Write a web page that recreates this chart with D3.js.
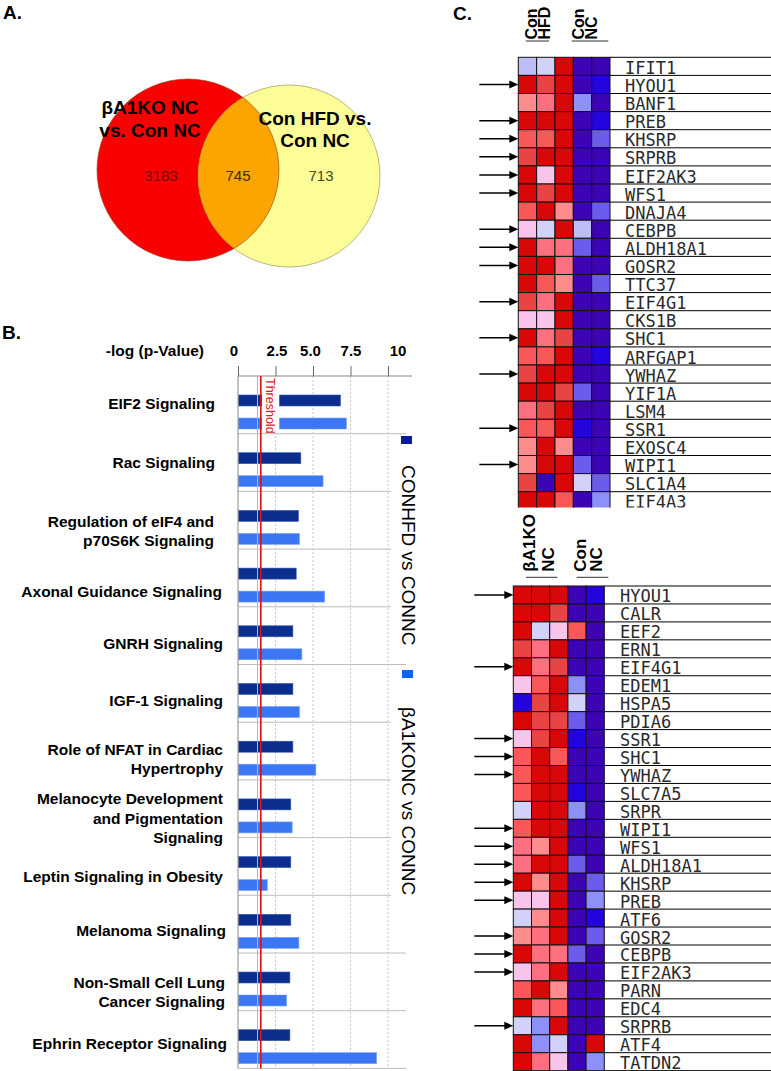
<!DOCTYPE html>
<html><head><meta charset="utf-8">
<script src="https://cdn.jsdelivr.net/npm/d3@7"></script>
<style>body{margin:0;background:#fff}svg{display:block}</style>
</head><body>
<svg id="fig" width="771" height="1071"></svg>
<script>
// ---------------- DATA ----------------
// Panel A: Venn counts
const vennLabelsA = ["βA1KO NC", "vs. Con NC"];
const vennLabelsB = ["Con HFD vs.", "Con NC"];
const vennOnlyA = 3183, vennBoth = 745, vennOnlyB = 713;

// Panel B: pathways, -log(p)
const pathways = [
  ["EIF2 Signaling"], ["Rac Signaling"], ["Regulation of eIF4 and", "p70S6K Signaling"],
  ["Axonal Guidance Signaling"], ["GNRH Signaling"], ["IGF-1 Signaling"],
  ["Role of NFAT in Cardiac", "Hypertrophy"], ["Melanocyte Development", "and Pigmentation", "Signaling"],
  ["Leptin Signaling in Obesity"], ["Melanoma Signaling"], ["Non-Small Cell Lung", "Cancer Signaling"],
  ["Ephrin Receptor Signaling"]
];
const conHFDvsConNC = [6.83, 4.19, 4.03, 3.88, 3.66, 3.66, 3.66, 3.52, 3.52, 3.52, 3.46, 3.46];
const bA1KOvsConNC  = [7.23, 5.67, 4.10, 5.78, 4.26, 4.10, 5.19, 3.61, 1.95, 4.06, 3.24, 9.24];
const xTickValues = [0, 2.5, 5, 7.5, 10];
const xTickLabels = ["0", "2.5", "5.0", "7.5", "10"];
const seriesNames = ["CONHFD vs CONNC", "βA1KONC vs CONNC"];
const thresholdP05 = 1.3;
const thresholdShown = 1.52;

// Panel C: heatmaps (3 = strong up ... -4 = strong down)
const topHeaders = [["Con", "HFD"], ["Con", "NC"]];
const topGenes = ["IFIT1","HYOU1","BANF1","PREB","KHSRP","SRPRB","EIF2AK3","WFS1","DNAJA4","CEBPB","ALDH18A1","GOSR2","TTC37","EIF4G1","CKS1B","SHC1","ARFGAP1","YWHAZ","YIF1A","LSM4","SSR1","EXOSC4","WIPI1","SLC1A4","EIF4A3"];
const topValues = [
  [-0.3,0,3,-3,-3],[3,2.4,3,-3,-4],[1,1.5,3,-1,-3],[3,3,3,-3,-4],[2,2,3,-3,-2],
  [2.4,3,3,-3,-3],[3,0.5,3,-3,-3],[3,2.4,3,-3,-3],[2,3,1,-3,-2],[0.5,0,3,-0.3,-3],
  [3,1.5,1.5,-2,-3],[3,3,1.5,-3,-3],[3,2,1,-3,-2],[2.4,1.5,3,-3,-3],[0.5,0.5,3,-3,-3],
  [3,1.5,2.4,-3,-3],[2,2,3,-3,-4],[2.4,3,3,-3,-3],[3,3,2.4,-2,-3],[1.5,2.4,3,-3,-3],
  [2,2,3,-4,-3],[1,3,1,-3,-3],[1,3,3,-2,-3],[2.4,-3,3,0,-2],[3,3,2,-3,-1]
];
const topArrows = ["HYOU1","PREB","KHSRP","SRPRB","EIF2AK3","WFS1","CEBPB","ALDH18A1","GOSR2","EIF4G1","SHC1","YWHAZ","SSR1","WIPI1"];

const bottomHeaders = [["βA1KO", "NC"], ["Con", "NC"]];
const bottomGenes = ["HYOU1","CALR","EEF2","ERN1","EIF4G1","EDEM1","HSPA5","PDIA6","SSR1","SHC1","YWHAZ","SLC7A5","SRPR","WIPI1","WFS1","ALDH18A1","KHSRP","PREB","ATF6","GOSR2","CEBPB","EIF2AK3","PARN","EDC4","SRPRB","ATF4","TATDN2"];
const bottomValues = [
  [3,3,3,-3,-4],[3,3,2.4,-3,-3],[3,0,0.5,2,-3],[2.4,1.5,3,-3,-3],[3,1.5,2.4,-3,-3],
  [0.5,2,3,-1,-3],[-4,2.4,3,0,-3],[3,2.4,2.4,-2,-3],[0.5,2.4,3,-4,-3],[2,3,2,-3,-3],
  [2,3,3,-3,-3],[2,3,3,-4,-3],[0,3,3,-1,-3],[2,3,3,-3,-3],[1.5,1,3,-3,-3],
  [1.5,3,3,-2,-3],[3,1,3,-3,-2],[0.5,0.5,3,-3,-1],[0,1,3,-3,-4],[1,1.5,3,-3,-2],
  [3,1.5,1.5,-2,-3],[0.5,1.5,3,-3,-3],[2,3,1,-3,-3],[3,1.5,2,-3,-3],[0,-1,3,-3,-3],
  [3,-1,0,-3,3],[3,1.5,0.5,-3,-1]
];
const bottomArrows = ["HYOU1","EIF4G1","SSR1","SHC1","YWHAZ","WIPI1","WFS1","ALDH18A1","KHSRP","PREB","GOSR2","CEBPB","EIF2AK3","SRPRB"];

// ---------------- DRAW ----------------
const svg = d3.select("#fig");
const SANS = "'Liberation Sans', Arial, Helvetica, sans-serif";
svg.append("rect").attr("width",771).attr("height",1071).attr("fill","#fff");

function panelLetter(t, x, y){
  svg.append("text").attr("x",x).attr("y",y).text(t)
    .attr("font-family",SANS).attr("font-weight","bold").attr("font-size",19).attr("fill","#000");
}
panelLetter("A.", 3, 19);
panelLetter("B.", 2, 339);
panelLetter("C.", 453, 20);

// ---- Panel A: Venn ----
const venn = svg.append("g");
const cA = {x:188, y:170, r:91}, cB = {x:289, y:176, r:91};
const defs = svg.append("defs");
defs.append("clipPath").attr("id","clipA").append("circle").attr("cx",cA.x).attr("cy",cA.y).attr("r",cA.r);
venn.append("circle").attr("cx",cA.x).attr("cy",cA.y).attr("r",cA.r).attr("fill","#fb0000");
venn.append("circle").attr("cx",cB.x).attr("cy",cB.y).attr("r",cB.r).attr("fill","#fdfd98");
venn.append("circle").attr("cx",cB.x).attr("cy",cB.y).attr("r",cB.r).attr("fill","#fca500").attr("clip-path","url(#clipA)");
venn.append("circle").attr("cx",cA.x).attr("cy",cA.y).attr("r",cA.r).attr("fill","none").attr("stroke","#7a3a10").attr("stroke-width",0.8).attr("stroke-opacity",0.7);
venn.append("circle").attr("cx",cB.x).attr("cy",cB.y).attr("r",cB.r).attr("fill","none").attr("stroke","#8a7a40").attr("stroke-width",0.8).attr("stroke-opacity",0.7);
function vennText(lines, cx, ys){
  lines.forEach((l,i)=>venn.append("text").attr("x",cx).attr("y",ys[i]).attr("dy","0.35em")
    .attr("text-anchor","middle").attr("font-family",SANS).attr("font-weight","bold")
    .attr("font-size",19).attr("fill","#000").text(l));
}
vennText(vennLabelsA, 150, [107, 130]);
vennText(vennLabelsB, 315, [118, 140]);
[[vennOnlyA,161,"#6e0a0a"],[vennBoth,238,"#3d2a00"],[vennOnlyB,321,"#4a4a1a"]].forEach(([v,x,c])=>{
  venn.append("text").attr("x",x).attr("y",176).attr("dy","0.35em").attr("text-anchor","middle")
    .attr("font-family",SANS).attr("font-size",15).attr("fill",c).text(v);
});

// ---- Panel B: bar chart ----
const B = svg.append("g");
const bx = d3.scaleLinear().domain([0,10]).range([238,388]);
const by = d3.scaleBand().domain(d3.range(pathways.length)).range([376,1068.4]);
const yTop = 376, yBot = 1068.4;

// gridlines
B.selectAll("line.grid").data(xTickValues.filter(d=>d>0)).join("line")
  .attr("x1",d=>bx(d)).attr("x2",d=>bx(d)).attr("y1",yTop).attr("y2",yBot)
  .attr("stroke","#c8c8c8").attr("stroke-width",1).attr("stroke-dasharray","2,2");

// axis
const axis = d3.axisTop(bx).tickValues(xTickValues).tickSize(10).tickFormat((d,i)=>xTickLabels[i]);
const ag = B.append("g").attr("transform",`translate(0,${yTop})`).call(axis);
ag.select(".domain").remove();
ag.selectAll(".tick line").attr("stroke","#666");
const tickNudge = [-4.5, 1, -3, 0, 9.5];
ag.selectAll(".tick text").attr("y",-25).attr("dy","0.35em").attr("x",(d,i)=>tickNudge[i])
  .attr("font-family",SANS).attr("font-weight","bold").attr("font-size",15).attr("fill","#000");
B.append("line").attr("x1",bx(0)).attr("x2",bx(11.6)).attr("y1",yTop).attr("y2",yTop).attr("stroke","#888");
B.append("text").attr("x",204).attr("y",351).attr("dy","0.35em").attr("text-anchor","end")
  .attr("font-family",SANS).attr("font-weight","bold").attr("font-size",15.5).text("-log (p-Value)");

// separators (shortened where the legend text sits)
const legendSpans = [[462,650],[704,900]];
B.selectAll("line.sep").data(d3.range(1, pathways.length+1)).join("line")
  .attr("x1",bx(0)).attr("y1",d=>by(0)+d*by.step()).attr("y2",d=>by(0)+d*by.step())
  .attr("x2",d=>{const y=by(0)+d*by.step(); return legendSpans.some(s=>y>s[0]&&y<s[1]) ? 391 : 406;})
  .attr("stroke","#bdbdbd").attr("stroke-width",1);

// bars
const darkC = "#0b2d8d", lightC = "#3b77f4";
B.selectAll("rect.d").data(conHFDvsConNC).join("rect")
  .attr("x",bx(0)+0.5).attr("y",(d,i)=>by(i)+19).attr("height",11).attr("width",d=>bx(d)-bx(0)-0.5)
  .attr("fill",darkC).attr("stroke","#3a5ab0").attr("stroke-width",0.6);
B.selectAll("rect.l").data(bA1KOvsConNC).join("rect")
  .attr("x",bx(0)+0.5).attr("y",(d,i)=>by(i)+42).attr("height",11).attr("width",d=>bx(d)-bx(0)-0.5)
  .attr("fill",lightC).attr("stroke","#7aa2f6").attr("stroke-width",0.6);

// left axis line
B.append("line").attr("x1",bx(0)).attr("x2",bx(0)).attr("y1",yTop).attr("y2",yBot).attr("stroke","#8a8a8a");

// threshold lines and label
B.append("line").attr("x1",bx(thresholdP05)).attr("x2",bx(thresholdP05)).attr("y1",yTop).attr("y2",yBot)
  .attr("stroke","#ffb030").attr("stroke-width",1);
B.append("rect").attr("x",bx(thresholdShown)+1).attr("y",by(0)+1).attr("width",17.5).attr("height",by.step()-2).attr("fill","#fff");
B.append("line").attr("x1",bx(thresholdShown)).attr("x2",bx(thresholdShown)).attr("y1",yTop).attr("y2",yBot)
  .attr("stroke","#e01010").attr("stroke-width",1.6);
B.append("text").attr("transform",`translate(${bx(thresholdShown)+5.5},${by(0)+2}) rotate(90)`)
  .attr("font-family",SANS).attr("font-size",12.5).attr("fill","#e02020").text("Threshold");

// category labels
const labNudgeY = [-1,0,11,14,8,7,8,9.5,10,6,10.5,4.5];
const labNudgeX = [-7,-7,-8,0,1,1,1,1,1,4,3,5];
pathways.forEach((lines,i)=>{
  const cy = by(i)+by.bandwidth()/2 + labNudgeY[i];
  const t = B.append("text").attr("font-family",SANS).attr("font-weight","bold").attr("font-size",15.5)
    .attr("text-anchor","end").attr("fill","#000");
  lines.forEach((l,j)=>{
    t.append("tspan").attr("x",222+labNudgeX[i]).attr("y",cy + (j-(lines.length-1)/2)*19.3).attr("dy","0.35em").text(l);
  });
});

// legend
const legColors = ["#0a1c9c","#1262f0"];
const legSq = [[401,436],[402,670]];
const legTxt = [465, 707];
seriesNames.forEach((n,i)=>{
  B.append("rect").attr("x",legSq[i][0]).attr("y",legSq[i][1]).attr("width",11).attr("height",8).attr("fill",legColors[i]);
  B.append("text").attr("transform",`translate(408,${legTxt[i]}) rotate(90)`).attr("dominant-baseline","central")
    .attr("font-family",SANS).attr("font-size",19).attr("fill","#000").text(n);
});

// ---- Panel C: heatmaps ----
const heatColor = d3.scaleLinear()
  .domain([-4,-3,-2,-1,0,0.5,1,1.5,2,2.4,3])
  .range(["#2404dc","#3c04b4","#6c5cec","#8c90f8","#d2d2f8","#f8c4ec","#ff8c8c","#fe7080","#fa5858","#e84444","#d80808"]);

defs.append("clipPath").attr("id","clipTop").append("rect").attr("x",440).attr("y",0).attr("width",331).attr("height",507.5);

function heatmap(genes, values, arrows, headers, o){
  const g = svg.append("g");
  if (o.clip) g.attr("clip-path","url(#clipTop)");
  const x = d3.scaleBand().domain(d3.range(5)).range([o.x0, o.x0+5*o.cw]);
  const y = d3.scaleBand().domain(genes).range([o.y0, o.y0+genes.length*o.rh]);
  const right = o.x0+5*o.cw;
  // label lines
  g.selectAll("line.rl").data(d3.range(genes.length+1)).join("line")
    .attr("x1",right).attr("x2",771).attr("y1",d=>o.y0+d*o.rh).attr("y2",d=>o.y0+d*o.rh)
    .attr("stroke","#000").attr("stroke-width",1);
  // cells
  genes.forEach((gene,r)=>{
    g.selectAll(null).data(values[r]).join("rect")
      .attr("x",(d,c)=>x(c)).attr("y",y(gene)).attr("width",x.bandwidth()).attr("height",y.bandwidth())
      .attr("fill",d=>heatColor(d)).attr("stroke","#111").attr("stroke-width",1);
  });
  // gene labels
  g.selectAll("text.gl").data(genes).join("text")
    .attr("x",right+o.lx).attr("y",d=>y(d)+y.bandwidth()-1.5)
    .attr("font-family","'DejaVu Sans Mono', monospace").attr("font-size",17).attr("fill","#2a2a2a")
    .text(d=>d);
  // arrows
  arrows.forEach(a=>{
    const yy = y(a)+y.bandwidth()/2;
    g.append("line").attr("x1",o.x0-39).attr("x2",o.x0-7).attr("y1",yy).attr("y2",yy).attr("stroke","#000").attr("stroke-width",1.5);
    g.append("path").attr("d",`M${o.x0-9},${yy-4}L${o.x0},${yy}L${o.x0-9},${yy+4}Z`).attr("fill","#000");
  });
  // headers
  o.hdr.forEach((h,hi)=>{
    h.bx.forEach((bxv,k)=>{
      svg.append("text").attr("transform",`translate(${bxv},${o.hy}) rotate(-90)`)
        .attr("font-family",SANS).attr("font-weight","bold").attr("font-size",o.hfs).attr("fill","#000")
        .text(headers[hi][k]);
    });
    svg.append("line").attr("x1",h.ul[0]).attr("x2",h.ul[1]).attr("y1",o.uy).attr("y2",o.uy).attr("stroke","#333").attr("stroke-width",1);
  });
}

heatmap(topGenes, topValues, topArrows, topHeaders,
  {x0:518.3, y0:57.3, cw:18.34, rh:18.1, lx:15, clip:true, hy:39.5, uy:41, hfs:16,
   hdr:[{bx:[536.7,549.5], ul:[525.7,549]},{bx:[583.5,596.7], ul:[571.7,608.3]}]});
heatmap(bottomGenes, bottomValues, bottomArrows, bottomHeaders,
  {x0:513.3, y0:586, cw:18.2, rh:17.95, lx:15.7, clip:false, hy:571.7, uy:577.3, hfs:17,
   hdr:[{bx:[535,553.5], ul:[526,557.3]},{bx:[586,601.5], ul:[576.7,608.3]}]});
</script>
</body></html>
